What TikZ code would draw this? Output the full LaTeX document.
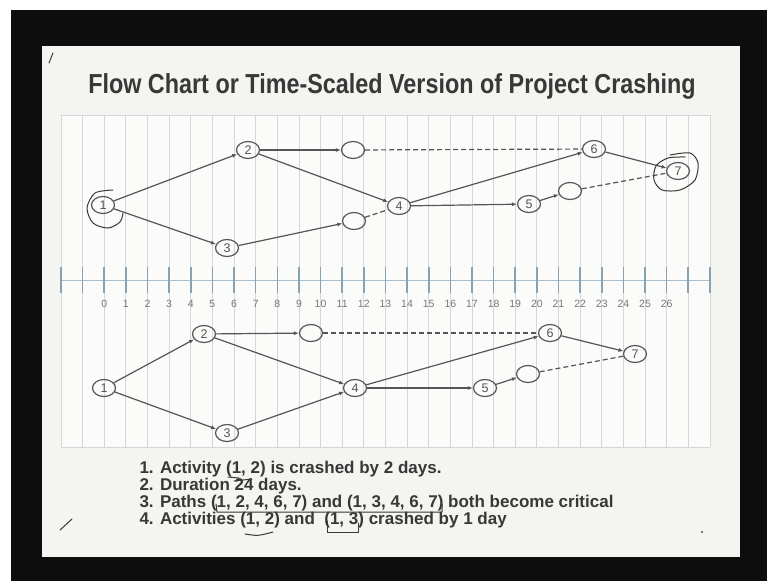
\documentclass[tikz,border=0pt]{standalone}
\usepackage{fontspec}
\setmainfont{Liberation Sans}
\newfontfamily\titlefont[FakeStretch=0.85]{Liberation Sans}
\usetikzlibrary{shapes.geometric,arrows.meta}
\definecolor{slide}{HTML}{F4F4F1}
\definecolor{gridc}{HTML}{D3D7DB}
\definecolor{tickc}{HTML}{86A2B3}
\definecolor{ink}{HTML}{555555}
\definecolor{txt}{HTML}{383838}
\begin{document}
\begin{tikzpicture}[x=1pt,y=-1pt,
  ev/.style={ellipse,draw=ink,line width=1.2pt,minimum width=23pt,minimum height=17pt,inner sep=0pt,font=\fontsize{12.5}{12.5}\selectfont,text=ink},
  act/.style={draw=ink,line width=1.2pt,-{Latex[length=5pt,width=4pt]}},
  dum/.style={draw=ink,line width=1.2pt,dash pattern=on 5pt off 3pt},
  hand/.style={draw=txt,line width=1pt,line cap=round,line join=round}]
\useasboundingbox (0,0) rectangle (767,581);
\fill[white] (0,0) rectangle (767,581);
\fill[black!95] (11,10) rectangle (767,581);
\fill[slide] (42,46) rectangle (740,557);
% grid
\fill[white!60!slide] (61,115) rectangle (710,447);
\foreach \i in {0,...,30}
  \draw[gridc,line width=0.8pt] ({61+21.63*\i},115) -- ({61+21.63*\i},447);
\draw[gridc,line width=0.8pt] (61,115) -- (710,115) (61,447) -- (710,447);
% time axis
\draw[tickc!70,line width=0.8pt] (61,280) -- (710,280);
\foreach \i in {0,...,30}
  \draw[tickc,line width=1.6pt] ({61+21.63*\i},267) -- ({61+21.63*\i},293);
\foreach \d in {0,...,26}
  \node[text=ink!80,font=\fontsize{10.5}{10.5}\selectfont] (t\d) at ({61+21.63*(\d+2)},304) {\d};
\node[text=txt,font=\titlefont\bfseries\fontsize{27.5}{27.5}\selectfont] (title) at (392,86) {Flow Chart or Time-Scaled Version of Project Crashing};
% upper network
\node[ev] (u1) at (103,205) {1};
\node[ev] (u2) at (248,150) {2};
\node[ev] (u3) at (227,248) {3};
\node[ev] (u4) at (399,206) {4};
\node[ev] (u5) at (529,204) {5};
\node[ev] (u6) at (594,149) {6};
\node[ev] (u7) at (678,171) {7};
\node[ev] (ua) at (353,150) {};
\node[ev] (ub) at (354,221) {};
\node[ev] (uc) at (570,191) {};
\draw[act] (u1) -- (u2);
\draw[act] (u1) -- (u3);
\draw[act] (u2) -- (ua);
\draw[act] (u2) -- (u4);
\draw[act] (u3) -- (ub);
\draw[dum] (ub) -- (u4);
\draw[dum] (ua) -- (u6);
\draw[act] (u4) -- (u6);
\draw[act] (u4) -- (u5);
\draw[act] (u5) -- (uc);
\draw[dum] (uc) -- (u7);
\draw[act] (u6) -- (u7);
\draw[hand] plot[smooth] coordinates {(113,190) (95,193) (87,208) (93,223) (108,228) (120,222) (123,213)};
\draw[hand] plot[smooth] coordinates {(670,155) (690,153) (698,163) (695,180) (680,190) (662,190) (654,180) (656,166) (668,158) (685,157)};
% lower network
\node[ev] (l1) at (104,388) {1};
\node[ev] (l2) at (204,334) {2};
\node[ev] (l3) at (227,433) {3};
\node[ev] (l4) at (355,388) {4};
\node[ev] (l5) at (485,388) {5};
\node[ev] (l6) at (550,333) {6};
\node[ev] (l7) at (635,354) {7};
\node[ev] (la) at (311,333) {};
\node[ev] (lc) at (528,374) {};
\draw[act] (l1) -- (l2);
\draw[act] (l1) -- (l3);
\draw[act] (l2) -- (la);
\draw[act] (l2) -- (l4);
\draw[act] (l3) -- (l4);
\draw[dum] (la) -- (l6);
\draw[act] (l4) -- (l6);
\draw[act] (l4) -- (l5);
\draw[act] (l5) -- (lc);
\draw[dum] (lc) -- (l7);
\draw[act] (l6) -- (l7);
% notes
\begin{scope}[every node/.style={anchor=west,text=txt,font=\bfseries\fontsize{17}{17}\selectfont}]
\node (n1) at (136,469) {1. Activity (1, 2) is crashed by 2 days.};
\node (n2) at (136,486) {2. Duration 24 days.};
\node (n3) at (136,503) {3. Paths (1, 2, 4, 6, 7) and (1, 3, 4, 6, 7) both become critical};
\node (n4) at (136,520) {4. Activities (1, 2) and \ (1, 3) crashed by 1 day};
\end{scope}
\draw[hand] (228,477) -- (239,478);
\draw[hand] (234,481) -- (252,479);
\draw[hand] (216,504) -- (217,512) -- (442,512) -- (442,504);
\draw[hand] (245,534) .. controls (258,536) .. (273,532);
\draw[hand] (327,521) -- (327,532) -- (358,532) -- (358,523);
\draw[hand] (53,53) -- (49,63);
\draw[hand] (60,530) -- (72,519);
\fill[ink] (702,532) circle (1.2);
\end{tikzpicture}
\end{document}
